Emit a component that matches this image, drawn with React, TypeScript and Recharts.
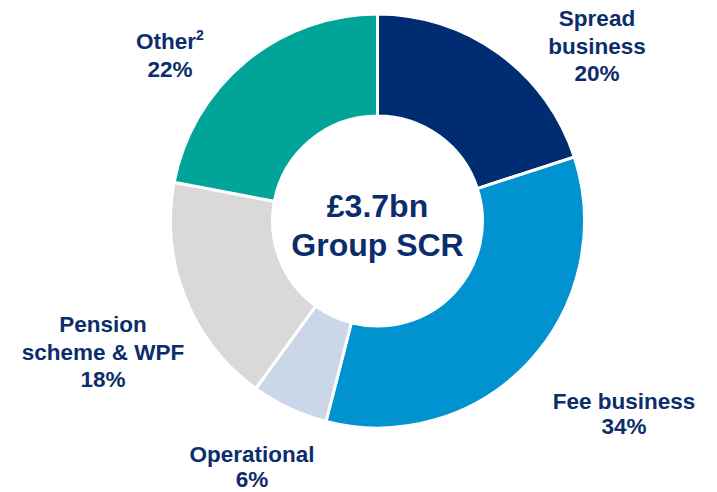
import React from 'react';
import { PieChart, Pie, Cell } from 'recharts';

const segments = ['Spread business', 'Fee business', 'Operational', 'Pension scheme & WPF', 'Other'];
const shares = [20, 34, 6, 18, 22];
const colors = ['#002d72', '#0093d0', '#cbd6e8', '#d9d9d9', '#00a499'];

// text lines for each outside label (the last line is the percentage)
const labelLines = [
  ['Spread', 'business'],
  ['Fee business'],
  ['Operational'],
  ['Pension', 'scheme & WPF'],
  ['Other'],
];
const labelAnchors = [
  { x: 597, y: 26 },
  { x: 624, y: 409 },
  { x: 252, y: 462 },
  { x: 103, y: 332 },
  { x: 170, y: 49 },
];

const centerTitle = '£3.7bn';
const centerSub = 'Group SCR';

const TEXT = '#0c2d6b';
const FONT = '"Liberation Sans", Arial, Helvetica, sans-serif';

const data = segments.map((name, i) => ({ name, value: shares[i] }));

const renderLabel = (props: any) => {
  const i = props.index;
  const pos = labelAnchors[i];
  const lines = [...labelLines[i], `${shares[i]}%`];
  const step = i === 1 || i === 2 ? 25 : 27.5;
  return (
    <g key={`lbl-${i}`}>
      <text
        x={pos.x}
        y={pos.y}
        textAnchor="middle"
        fill={TEXT}
        fontFamily={FONT}
        fontWeight={700}
        fontSize={22.5}
      >
        {lines.map((l, k) => (
          <tspan key={k} x={pos.x} y={pos.y + k * step}>
            {l}
            {i === 4 && k === 0 ? (
              <tspan fontSize={14} dy={-9}>2</tspan>
            ) : null}
          </tspan>
        ))}
      </text>
      {i === 0 ? (
        <text textAnchor="middle" fill={TEXT} fontFamily={FONT} fontWeight={700} fontSize={32}>
          <tspan x={props.cx} y={props.cy - 4}>{centerTitle}</tspan>
          <tspan x={props.cx} y={props.cy + 35}>{centerSub}</tspan>
        </text>
      ) : null}
    </g>
  );
};

export default function App() {
  return (
    <div style={{ width: 717, height: 492 }}>
      <style>{'body{margin:0}'}</style>
      <PieChart width={717} height={492} margin={{ top: 0, right: 0, bottom: 0, left: 0 }}>
        <Pie
          data={data}
          dataKey="value"
          nameKey="name"
          cx={377.5}
          cy={221}
          innerRadius={105}
          outerRadius={207}
          startAngle={90}
          endAngle={-270}
          stroke="#ffffff"
          strokeWidth={3}
          label={renderLabel}
          labelLine={false}
          isAnimationActive={false}
        >
          {data.map((d, i) => (
            <Cell key={d.name} fill={colors[i]} />
          ))}
        </Pie>
      </PieChart>
    </div>
  );
}
